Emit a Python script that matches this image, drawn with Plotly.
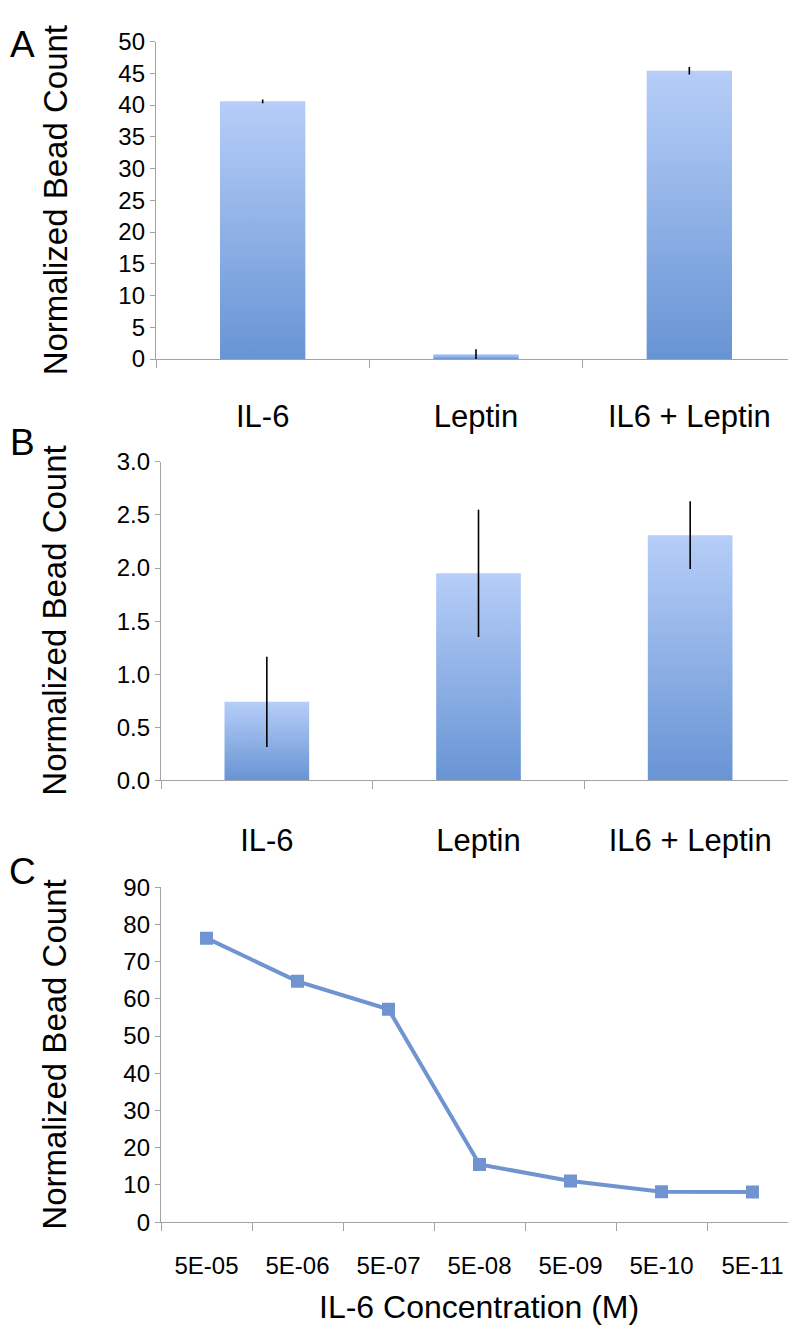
import plotly.graph_objects as go

# ---------------- data ----------------
categories_ab = ["IL-6", "Leptin", "IL6 + Leptin"]
a_values = [40.6, 0.77, 45.4]
a_errors = [0.3, 0.76, 0.6]
b_values = [0.74, 1.95, 2.31]
b_errors = [0.425, 0.60, 0.32]
c_labels = ["5E-05", "5E-06", "5E-07", "5E-08", "5E-09", "5E-10", "5E-11"]
c_values = [76.3, 64.7, 57.2, 15.5, 11.1, 8.2, 8.1]

a_ticks = list(range(0, 55, 5))
b_ticks = [0.0, 0.5, 1.0, 1.5, 2.0, 2.5, 3.0]
c_ticks = list(range(0, 100, 10))

y_title = "Normalized Bead Count"
c_x_title = "IL-6 Concentration (M)"
panel_letters = ["A", "B", "C"]

# ---------------- style ----------------
W, H = 796, 1335
FONT = "Liberation Sans, Arial, Helvetica, sans-serif"
AXIS_COLOR = "#a3a3a3"
BAR_SCALE = [[0, "#6894d4"], [1, "#b6cef8"]]
LINE_COLOR = "#7094cf"
HALF = 0.2  # bar half-width in category units (gap width 150%)


def px_x(p):
    return p / W


def px_y(p):
    return 1 - p / H


fig = go.Figure()


def add_bars(values, errors, xa, ya):
    for i, v in enumerate(values):
        fig.add_trace(go.Scatter(
            x=[i - HALF, i - HALF, i + HALF, i + HALF, i - HALF],
            y=[0, v, v, 0, 0],
            mode="lines", line=dict(width=0), fill="toself",
            fillgradient=dict(type="vertical", colorscale=BAR_SCALE),
            xaxis=xa, yaxis=ya, showlegend=False, hoverinfo="skip"))
    fig.add_trace(go.Scatter(
        x=list(range(len(values))), y=values, mode="markers",
        marker=dict(size=1, opacity=0),
        error_y=dict(type="data", array=errors, visible=True,
                     color="black", thickness=1.6, width=0),
        xaxis=xa, yaxis=ya, showlegend=False))


add_bars(a_values, a_errors, "x", "y")
add_bars(b_values, b_errors, "x2", "y2")

fig.add_trace(go.Scatter(
    x=list(range(len(c_values))), y=c_values, mode="lines+markers",
    line=dict(color=LINE_COLOR, width=4),
    marker=dict(symbol="square", size=13, color=LINE_COLOR),
    xaxis="x3", yaxis="y3", showlegend=False))

# ---------------- axes ----------------
def x_axis(dom, n, labels, standoff, fsize, anchor):
    return dict(
        domain=dom, range=[-0.5, n - 0.5], anchor=anchor,
        tickmode="array", tickvals=list(range(n)), ticktext=labels,
        ticks="", showgrid=False, zeroline=False,
        showline=True, linecolor=AXIS_COLOR, linewidth=1.3,
        tickfont=dict(size=fsize, color="black", family=FONT),
        ticklabelstandoff=standoff,
        minor=dict(tickmode="array", tickvals=[k - 0.5 for k in range(n + 1)],
                   ticks="outside", ticklen=8, tickcolor=AXIS_COLOR, tickwidth=1.3),
        fixedrange=True)


def y_axis(dom, rng, ticks, fmt, anchor):
    return dict(
        domain=dom, range=rng, anchor=anchor, tickmode="array", tickvals=ticks,
        ticktext=[fmt.format(t) for t in ticks],
        ticks="outside", ticklen=5, tickcolor=AXIS_COLOR, tickwidth=1.3,
        showline=True, linecolor=AXIS_COLOR, linewidth=1.3,
        showgrid=False, zeroline=False,
        tickfont=dict(size=24, color="black", family=FONT),
        fixedrange=True)


fig.update_layout(
    width=W, height=H, margin=dict(l=0, r=0, t=0, b=0),
    paper_bgcolor="white", plot_bgcolor="white",
    font=dict(family=FONT, color="black"),
    xaxis=x_axis([px_x(148), px_x(788)], 3, categories_ab, 30, 31, "y"),
    yaxis=y_axis([px_y(344), px_y(20)], [0, 50], a_ticks, "{:d}", "x"),
    xaxis2=x_axis([px_x(153), px_x(788)], 3, categories_ab, 32, 31, "y2"),
    yaxis2=y_axis([px_y(774), px_y(449)], [0, 3], b_ticks, "{:.1f}", "x2"),
    xaxis3=x_axis([px_x(153), px_x(790)], 7, c_labels, 22, 24, "y3"),
    yaxis3=y_axis([px_y(1225), px_y(883)], [0, 90], c_ticks, "{:d}", "x3"),
)

annotations = []
for cy in [182, 611, 1054]:
    annotations.append(dict(text=y_title, x=px_x(47), y=px_y(cy), xref="paper", yref="paper",
                            textangle=-90, showarrow=False, font=dict(size=33, family=FONT),
                            xanchor="center", yanchor="middle"))
for letter, cy in zip(panel_letters, [23, 429, 867]):
    annotations.append(dict(text=letter, x=px_x(14), y=px_y(cy), xref="paper", yref="paper",
                            showarrow=False, font=dict(size=37, family=FONT),
                            xanchor="center", yanchor="middle"))
annotations.append(dict(text=c_x_title, x=px_x(471), y=px_y(1312), xref="paper", yref="paper",
                        showarrow=False, font=dict(size=32, family=FONT),
                        xanchor="center", yanchor="middle"))
fig.update_layout(annotations=annotations)

fig.write_html("out.html")
